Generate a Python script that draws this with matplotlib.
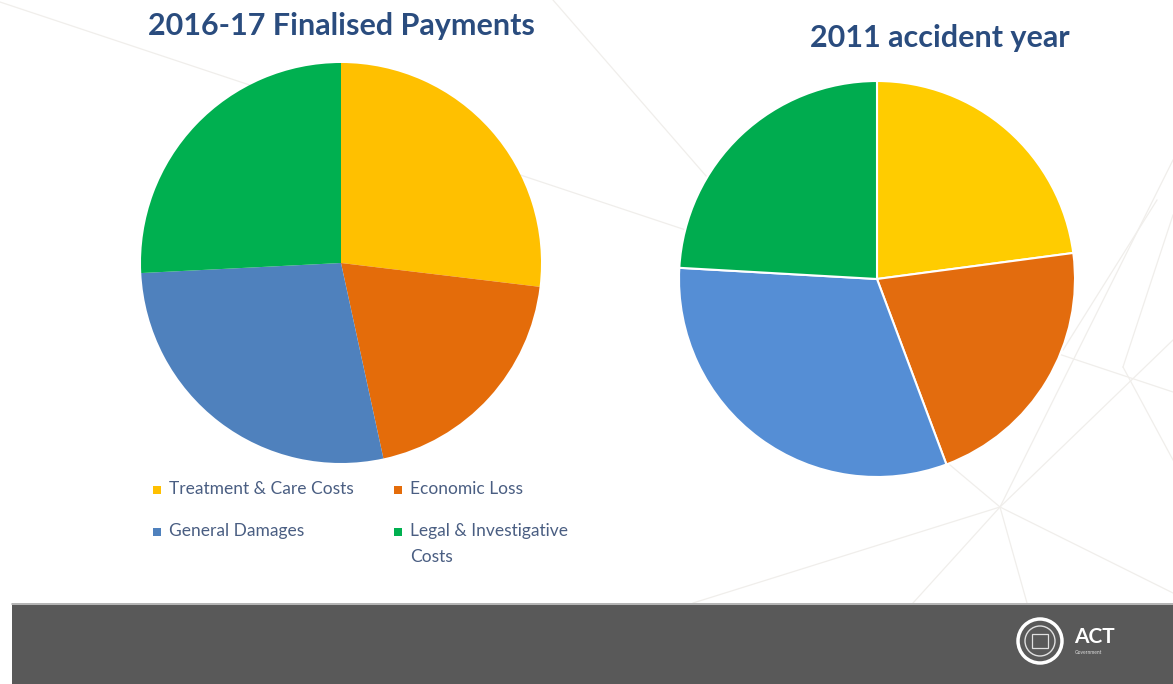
import matplotlib.pyplot as plt
from matplotlib.patches import Rectangle, Circle

# payment shares (%) by claim component
categories = ["Treatment & Care Costs", "Economic Loss", "General Damages", "Legal & Investigative\nCosts"]
finalised_2016_17 = [26.9, 19.7, 27.6, 25.8]
accident_2011 = [22.9, 21.4, 31.6, 24.1]

left_colors = ["#FFC000", "#E46C0A", "#4F81BD", "#00B050"]
right_colors = ["#FFCC00", "#E36C0E", "#558ED5", "#00AC4F"]

W, H = 1173, 684
plt.rcParams['font.family'] = ['Lato', 'DejaVu Sans']

fig = plt.figure(figsize=(W / 100, H / 100), dpi=100)
fig.patch.set_facecolor("white")

# background layer in pixel coords
bg = fig.add_axes([0, 0, 1, 1], zorder=0)
bg.set_xlim(0, W)
bg.set_ylim(H, 0)
bg.axis("off")

deco = [
    ((0, 2), (1173, 392)),
    ((553, 0), (740, 215)),
    ((1000, 507), (1173, 160)),
    ((1000, 507), (1173, 340)),
    ((1123, 367), (1173, 460)),
    ((1123, 367), (1173, 215)),
    ((1063, 350), (1157, 200)),
    ((1000, 507), (693, 603)),
    ((1000, 507), (913, 603)),
    ((1000, 507), (1027, 603)),
    ((1000, 507), (1173, 593)),
    ((1000, 507), (950, 465)),
]
for (x0, y0), (x1, y1) in deco:
    bg.plot([x0, x1], [y0, y1], color="#F0EEEB", lw=0.9, zorder=1)

# footer bar
bg.add_patch(Rectangle((12, 603), W - 12, H - 603, facecolor="#595959", edgecolor="none", zorder=2))
bg.plot([12, W], [603.5, 603.5], color="#C8C8C8", lw=1.2, zorder=3)

# ACT logo
bg.add_patch(Circle((1040, 641), 22, facecolor="none", edgecolor="white", lw=2.5, zorder=4))
bg.add_patch(Circle((1040, 641), 15, facecolor="none", edgecolor="#E0E0E0", lw=1.0, zorder=4))
bg.add_patch(Rectangle((1032, 634), 16, 14, facecolor="none", edgecolor="#E0E0E0", lw=0.9, zorder=4))
bg.text(1074, 637, "ACT", color="white", fontsize=15, fontweight="bold", ha="left", va="center", zorder=4)
bg.text(1075, 653, "Government", color="#DDDDDD", fontsize=3.5, ha="left", va="center", zorder=4)


def pie_axes(cx, cy, r):
    ax = fig.add_axes([(cx - r) / W, (H - cy - r) / H, 2 * r / W, 2 * r / H], zorder=5)
    return ax


def finish(ax):
    ax.set_xlim(-1, 1)
    ax.set_ylim(-1, 1)
    ax.set_aspect("equal")
    ax.axis("off")


ax1 = pie_axes(341, 263, 200)
ax1.pie(finalised_2016_17, colors=left_colors, startangle=90, counterclock=False,
        radius=1, wedgeprops=dict(linewidth=0))
finish(ax1)

ax2 = pie_axes(877, 279, 198)
ax2.pie(accident_2011, colors=right_colors, startangle=90, counterclock=False,
        radius=1, wedgeprops=dict(linewidth=1.5, edgecolor="white"))
finish(ax2)

title_col = "#2A4C7E"
bg.text(341, 26, "2016-17 Finalised Payments", color=title_col, fontsize=22, fontweight="bold",
        ha="center", va="center", zorder=6)
bg.text(940, 38, "2011 accident year", color=title_col, fontsize=22, fontweight="bold",
        ha="center", va="center", zorder=6)

# legend, two columns
legend_pos = [(157, 490), (398, 490), (157, 532), (398, 532)]
for (lx, ly), lab, col in zip(legend_pos, categories, left_colors):
    bg.add_patch(Rectangle((lx - 4, ly - 4), 8, 8, facecolor=col, edgecolor="none", zorder=6))
    bg.text(lx + 12, ly - 9, lab, color="#4A5E82", fontsize=12.5, ha="left", va="top",
            linespacing=1.75, zorder=6)

fig.savefig("out.png", dpi=100, facecolor="white")
